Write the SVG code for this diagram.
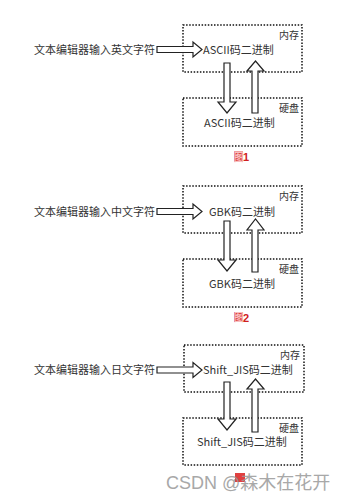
<svg xmlns="http://www.w3.org/2000/svg" width="351" height="500" viewBox="0 0 351 500">
<style>
.box{fill:none;stroke:#111;stroke-width:1.5;stroke-dasharray:1.5 1.6}
.arr{fill:#fff;stroke:#222;stroke-width:1.2;stroke-linejoin:miter}
.t{font-family:"Noto Sans CJK SC","Microsoft YaHei",sans-serif;font-size:11px;fill:#333}
.s{font-family:"Noto Sans CJK SC",sans-serif;font-size:10px;fill:#333}
.cap{font-family:"Liberation Sans",Arial,sans-serif;font-size:11px;font-weight:bold;fill:#d02020}
.capg{font-family:"Noto Sans CJK SC",sans-serif;font-size:10px;font-weight:bold;fill:#f6c0c0}
.wm{font-family:"Liberation Sans","Noto Sans CJK SC",sans-serif;font-size:18px;fill:#999;opacity:0.85}
</style>
<rect width="351" height="500" fill="#fff"/>

<!-- Panel 1 -->
<g id="panel1">
  <g id="input1"><text class="t" x="34" y="53.5" textLength="121">文本编辑器输入英文字符</text></g>
  <g id="mem1">
    <rect class="box" x="183" y="25" width="119" height="47"/>
    <text class="s" x="279" y="39">内存</text>
    <text class="t" x="203" y="53.5">ASCII码二进制</text>
  </g>
  <g id="disk1">
    <rect class="box" x="183" y="98" width="119" height="48"/>
    <text class="s" x="279" y="112">硬盘</text>
    <text class="t" x="204" y="127">ASCII码二进制</text>
  </g>
  <g id="cap1">
    <rect x="234" y="151.5" width="9" height="10" fill="#e04040"/>
    <text class="capg" x="233.8" y="160.5">图</text>
    <text class="cap" x="243" y="161">1</text>
  </g>
</g>

<!-- Panel 2 -->
<g id="panel2">
  <g id="input2"><text class="t" x="34" y="215.5" textLength="121">文本编辑器输入中文字符</text></g>
  <g id="mem2">
    <rect class="box" x="183" y="186" width="119" height="47"/>
    <text class="s" x="279" y="200">内存</text>
    <text class="t" x="209" y="215.5">GBK码二进制</text>
  </g>
  <g id="disk2">
    <rect class="box" x="183" y="259" width="119" height="48"/>
    <text class="s" x="279" y="273">硬盘</text>
    <text class="t" x="209" y="288">GBK码二进制</text>
  </g>
  <g id="cap2">
    <rect x="234" y="312" width="9" height="10" fill="#e04040"/>
    <text class="capg" x="233.8" y="321">图</text>
    <text class="cap" x="243" y="321.5">2</text>
  </g>
</g>

<!-- Panel 3 -->
<g id="panel3">
  <g id="input3"><text class="t" x="34" y="374" textLength="121">文本编辑器输入日文字符</text></g>
  <g id="mem3">
    <rect class="box" x="184" y="345" width="120" height="47"/>
    <text class="s" x="280" y="359">内存</text>
    <text class="t" x="203" y="374">Shift_JIS码二进制</text>
  </g>
  <g id="disk3">
    <rect class="box" x="183" y="418" width="119" height="47"/>
    <text class="s" x="279" y="432">硬盘</text>
    <text class="t" x="197" y="446">Shift_JIS码二进制</text>
  </g>
  <g id="cap3">
    <rect x="235" y="473" width="10" height="9" fill="#e04040"/>
  </g>
</g>

<!-- Connectors -->
<g id="connectors">
  <polygon class="arr" points="157,46.5 193,46.5 193,42 202,49.5 193,57 193,52.5 157,52.5"/>
  <polygon class="arr" points="224,63 230,63 230,102 236,102 227,113 218,102 224,102"/>
  <polygon class="arr" points="252,113 258,113 258,71 264,71 255.5,61 247,71 252,71"/>

  <polygon class="arr" points="157,208.5 193,208.5 193,204 202,211.5 193,219 193,214.5 157,214.5"/>
  <polygon class="arr" points="224,221 230,221 230,260 236,260 227,271 218,260 224,260"/>
  <polygon class="arr" points="252,272 258,272 258,230 264,230 255.5,219 247,230 252,230"/>

  <polygon class="arr" points="157,367 193,367 193,362.5 202,370 193,377.5 193,373 157,373"/>
  <polygon class="arr" points="224,382 230,382 230,419 236,419 227,430 218,419 224,419"/>
  <polygon class="arr" points="252,432 258,432 258,389 264,389 255.5,379 247,389 252,389"/>
</g>

<text class="wm" x="166" y="488.5">CSDN @森木在花开</text>
</svg>
